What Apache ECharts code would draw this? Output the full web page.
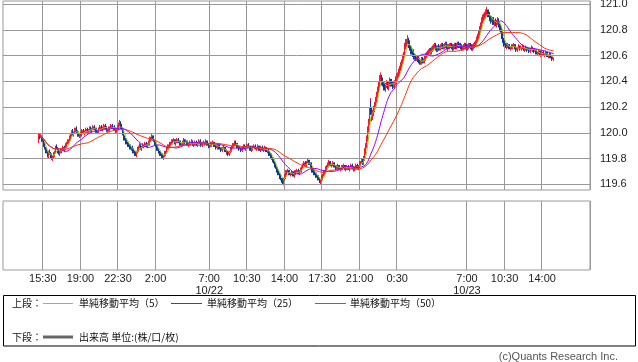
<!DOCTYPE html>
<html><head><meta charset="utf-8">
<script src="https://cdn.jsdelivr.net/npm/echarts@6/dist/echarts.min.js"></script>
<style>html,body{margin:0;padding:0;background:#fff}#c{width:638px;height:362px}</style>
</head><body><div id="c"></div>
<script>
// ---- data: 5-minute bars ----
const firstBar = '10/21 15:10';
const closes = [
119.98,119.97,119.97,119.95,119.94,119.91,119.88,119.86,119.85,119.83,
119.82,119.85,119.84,119.82,119.80,119.81,119.83,119.85,119.87,119.89,
119.88,119.86,119.84,119.85,119.86,119.87,119.88,119.88,119.87,119.88,
119.90,119.92,119.93,119.94,119.96,119.98,120.00,120.01,119.99,120.00,
120.02,120.03,120.01,119.99,119.98,119.98,119.99,120.00,120.01,120.01,
120.00,120.01,120.02,120.02,120.01,120.02,120.03,120.03,120.02,120.03,
120.04,120.04,120.03,120.02,120.01,120.01,120.02,120.03,120.04,120.04,
120.03,120.04,120.05,120.05,120.04,120.03,120.02,120.02,120.03,120.04,
120.05,120.05,120.04,120.04,120.03,120.02,120.02,120.03,120.04,120.06,
120.07,120.05,120.03,120.00,119.97,119.96,119.95,119.93,119.92,119.91,
119.90,119.89,119.88,119.88,119.87,119.86,119.85,119.84,119.83,119.85,
119.87,119.89,119.90,119.89,119.88,119.89,119.90,119.90,119.91,119.91,
119.90,119.91,119.92,119.93,119.95,119.96,119.97,119.96,119.94,119.92,
119.90,119.88,119.87,119.86,119.85,119.84,119.83,119.82,119.81,119.82,
119.84,119.85,119.86,119.88,119.89,119.90,119.91,119.92,119.93,119.94,
119.94,119.93,119.92,119.93,119.94,119.94,119.93,119.92,119.91,119.91,
119.92,119.93,119.94,119.93,119.93,119.92,119.91,119.91,119.92,119.92,
119.93,119.92,119.91,119.91,119.92,119.92,119.91,119.92,119.93,119.93,
119.92,119.91,119.91,119.92,119.92,119.92,119.93,119.92,119.91,119.90,
119.90,119.90,119.91,119.92,119.92,119.91,119.90,119.89,119.89,119.90,
119.90,119.89,119.88,119.87,119.87,119.88,119.88,119.87,119.86,119.85,
119.85,119.84,119.84,119.85,119.87,119.89,119.90,119.91,119.92,119.92,
119.91,119.90,119.89,119.88,119.88,119.87,119.87,119.88,119.89,119.89,
119.88,119.89,119.90,119.90,119.89,119.88,119.87,119.87,119.88,119.89,
119.89,119.89,119.88,119.88,119.89,119.88,119.87,119.87,119.88,119.88,
119.87,119.87,119.88,119.87,119.86,119.86,119.85,119.84,119.83,119.82,
119.80,119.79,119.77,119.75,119.73,119.71,119.70,119.69,119.68,119.66,
119.64,119.63,119.62,119.64,119.66,119.68,119.69,119.70,119.70,119.69,
119.68,119.68,119.69,119.68,119.67,119.68,119.69,119.70,119.70,119.70,
119.69,119.70,119.71,119.73,119.74,119.75,119.76,119.76,119.75,119.77,
119.78,119.77,119.76,119.75,119.73,119.71,119.70,119.69,119.68,119.67,
119.66,119.65,119.64,119.63,119.62,119.63,119.65,119.67,119.69,119.70,
119.72,119.74,119.75,119.76,119.77,119.76,119.75,119.75,119.76,119.75,
119.74,119.73,119.73,119.73,119.74,119.73,119.72,119.72,119.73,119.74,
119.74,119.73,119.72,119.72,119.73,119.73,119.72,119.73,119.74,119.74,
119.73,119.72,119.72,119.73,119.74,119.74,119.73,119.74,119.76,119.77,
119.78,119.78,119.77,119.80,119.85,119.90,119.95,120.02,120.08,120.16,
120.22,120.17,120.12,120.15,120.18,120.21,120.25,120.29,120.33,120.37,
120.40,120.42,120.43,120.40,120.38,120.36,120.35,120.37,120.38,120.37,
120.36,120.38,120.40,120.39,120.38,120.37,120.37,120.39,120.41,120.42,
120.43,120.45,120.47,120.50,120.52,120.55,120.58,120.61,120.64,120.67,
120.70,120.71,120.72,120.69,120.66,120.64,120.63,120.62,120.61,120.60,
120.59,120.58,120.58,120.57,120.56,120.55,120.55,120.56,120.57,120.56,
120.56,120.58,120.60,120.61,120.62,120.63,120.64,120.63,120.63,120.65,
120.66,120.67,120.68,120.66,120.65,120.66,120.67,120.66,120.66,120.67,
120.68,120.67,120.67,120.68,120.69,120.67,120.66,120.67,120.67,120.68,
120.68,120.67,120.66,120.67,120.68,120.68,120.67,120.68,120.69,120.68,
120.68,120.67,120.66,120.66,120.67,120.68,120.68,120.67,120.66,120.67,
120.68,120.68,120.67,120.66,120.66,120.67,120.68,120.69,120.70,120.72,
120.74,120.77,120.80,120.83,120.85,120.87,120.89,120.90,120.91,120.93,
120.94,120.93,120.92,120.90,120.89,120.88,120.88,120.87,120.86,120.86,
120.85,120.86,120.87,120.86,120.84,120.82,120.80,120.76,120.72,120.70,
120.69,120.68,120.67,120.67,120.68,120.67,120.66,120.66,120.67,120.68,
120.68,120.67,120.66,120.65,120.65,120.66,120.67,120.66,120.66,120.66,
120.67,120.66,120.65,120.65,120.66,120.65,120.65,120.64,120.64,120.65,
120.66,120.65,120.65,120.64,120.64,120.63,120.62,120.62,120.63,120.62,
120.61,120.61,120.62,120.62,120.61,120.61,120.62,120.61,120.60,120.60,
120.61,120.60,120.59,120.58,120.58,120.58];
const opens = [
119.93,119.98,119.97,119.97,119.95,119.94,119.91,119.88,119.86,119.85,
119.83,119.82,119.85,119.84,119.82,119.80,119.81,119.83,119.85,119.87,
119.89,119.88,119.86,119.84,119.85,119.86,119.87,119.88,119.88,119.87,
119.88,119.90,119.92,119.93,119.94,119.96,119.98,120.00,120.01,119.99,
120.00,120.02,120.03,120.01,119.99,119.98,119.98,119.99,120.00,120.01,
120.01,120.00,120.01,120.02,120.02,120.01,120.02,120.03,120.03,120.02,
120.03,120.04,120.04,120.03,120.02,120.01,120.01,120.02,120.03,120.04,
120.04,120.03,120.04,120.05,120.05,120.04,120.03,120.02,120.02,120.03,
120.04,120.05,120.05,120.04,120.04,120.03,120.02,120.02,120.03,120.04,
120.06,120.07,120.05,120.03,120.00,119.97,119.96,119.95,119.93,119.92,
119.91,119.90,119.89,119.88,119.88,119.87,119.86,119.85,119.84,119.83,
119.85,119.87,119.89,119.90,119.89,119.88,119.89,119.90,119.90,119.91,
119.91,119.90,119.91,119.92,119.93,119.95,119.96,119.97,119.96,119.94,
119.92,119.90,119.88,119.87,119.86,119.85,119.84,119.83,119.82,119.81,
119.82,119.84,119.85,119.86,119.88,119.89,119.90,119.91,119.92,119.93,
119.94,119.94,119.93,119.92,119.93,119.94,119.94,119.93,119.92,119.91,
119.91,119.92,119.93,119.94,119.93,119.93,119.92,119.91,119.91,119.92,
119.92,119.93,119.92,119.91,119.91,119.92,119.92,119.91,119.92,119.93,
119.93,119.92,119.91,119.91,119.92,119.92,119.92,119.93,119.92,119.91,
119.90,119.90,119.90,119.91,119.92,119.92,119.91,119.90,119.89,119.89,
119.90,119.90,119.89,119.88,119.87,119.87,119.88,119.88,119.87,119.86,
119.85,119.85,119.84,119.84,119.85,119.87,119.89,119.90,119.91,119.92,
119.92,119.91,119.90,119.89,119.88,119.88,119.87,119.87,119.88,119.89,
119.89,119.88,119.89,119.90,119.90,119.89,119.88,119.87,119.87,119.88,
119.89,119.89,119.89,119.88,119.88,119.89,119.88,119.87,119.87,119.88,
119.88,119.87,119.87,119.88,119.87,119.86,119.86,119.85,119.84,119.83,
119.82,119.80,119.79,119.77,119.75,119.73,119.71,119.70,119.69,119.68,
119.66,119.64,119.63,119.62,119.64,119.66,119.68,119.69,119.70,119.70,
119.69,119.68,119.68,119.69,119.68,119.67,119.68,119.69,119.70,119.70,
119.70,119.69,119.70,119.71,119.73,119.74,119.75,119.76,119.76,119.75,
119.77,119.78,119.77,119.76,119.75,119.73,119.71,119.70,119.69,119.68,
119.67,119.66,119.65,119.64,119.63,119.62,119.63,119.65,119.67,119.69,
119.70,119.72,119.74,119.75,119.76,119.77,119.76,119.75,119.75,119.76,
119.75,119.74,119.73,119.73,119.73,119.74,119.73,119.72,119.72,119.73,
119.74,119.74,119.73,119.72,119.72,119.73,119.73,119.72,119.73,119.74,
119.74,119.73,119.72,119.72,119.73,119.74,119.74,119.73,119.74,119.76,
119.77,119.78,119.78,119.77,119.80,119.85,119.90,119.95,120.02,120.08,
120.16,120.22,120.17,120.12,120.15,120.18,120.21,120.25,120.29,120.33,
120.37,120.40,120.42,120.43,120.40,120.38,120.36,120.35,120.37,120.38,
120.37,120.36,120.38,120.40,120.39,120.38,120.37,120.37,120.39,120.41,
120.42,120.43,120.45,120.47,120.50,120.52,120.55,120.58,120.61,120.64,
120.67,120.70,120.71,120.72,120.69,120.66,120.64,120.63,120.62,120.61,
120.60,120.59,120.58,120.58,120.57,120.56,120.55,120.55,120.56,120.57,
120.56,120.56,120.58,120.60,120.61,120.62,120.63,120.64,120.63,120.63,
120.65,120.66,120.67,120.68,120.66,120.65,120.66,120.67,120.66,120.66,
120.67,120.68,120.67,120.67,120.68,120.69,120.67,120.66,120.67,120.67,
120.68,120.68,120.67,120.66,120.67,120.68,120.68,120.67,120.68,120.69,
120.68,120.68,120.67,120.66,120.66,120.67,120.68,120.68,120.67,120.66,
120.67,120.68,120.68,120.67,120.66,120.66,120.67,120.68,120.69,120.70,
120.72,120.74,120.77,120.80,120.83,120.85,120.87,120.89,120.90,120.91,
120.93,120.94,120.93,120.92,120.90,120.89,120.88,120.88,120.87,120.86,
120.86,120.85,120.86,120.87,120.86,120.84,120.82,120.80,120.76,120.72,
120.70,120.69,120.68,120.67,120.67,120.68,120.67,120.66,120.66,120.67,
120.68,120.68,120.67,120.66,120.65,120.65,120.66,120.67,120.66,120.66,
120.66,120.67,120.66,120.65,120.65,120.66,120.65,120.65,120.64,120.64,
120.65,120.66,120.65,120.65,120.64,120.64,120.63,120.62,120.62,120.63,
120.62,120.61,120.61,120.62,120.62,120.61,120.61,120.62,120.61,120.60,
120.60,120.61,120.60,120.59,120.58,120.58];
const highs = [
120.00,119.99,119.99,119.98,119.97,119.95,119.93,119.89,119.88,119.86,
119.85,119.86,119.87,119.85,119.84,119.82,119.85,119.86,119.89,119.90,
119.91,119.89,119.88,119.86,119.88,119.88,119.90,119.89,119.90,119.89,
119.92,119.93,119.95,119.95,119.98,119.99,120.02,120.02,120.03,120.01,
120.04,120.04,120.05,120.02,120.01,119.99,120.01,120.01,120.03,120.02,
120.03,120.02,120.04,120.03,120.04,120.03,120.05,120.04,120.05,120.04,
120.06,120.05,120.06,120.04,120.04,120.02,120.04,120.04,120.06,120.05,
120.06,120.05,120.07,120.06,120.07,120.05,120.05,120.03,120.05,120.05,
120.07,120.06,120.07,120.05,120.06,120.04,120.04,120.04,120.06,120.08,
120.10,120.09,120.07,120.04,120.02,119.98,119.98,119.96,119.95,119.93,
119.93,119.91,119.91,119.89,119.90,119.88,119.88,119.86,119.86,119.86,
119.89,119.90,119.92,119.91,119.91,119.90,119.92,119.91,119.93,119.92,
119.93,119.92,119.94,119.94,119.97,119.97,119.99,119.98,119.98,119.95,
119.94,119.91,119.90,119.88,119.88,119.86,119.86,119.84,119.84,119.83,
119.86,119.86,119.88,119.89,119.91,119.91,119.93,119.93,119.95,119.95,
119.96,119.95,119.95,119.94,119.96,119.95,119.96,119.94,119.94,119.92,
119.94,119.94,119.96,119.95,119.95,119.94,119.94,119.92,119.94,119.93,
119.95,119.94,119.94,119.92,119.94,119.93,119.94,119.93,119.95,119.94,
119.95,119.93,119.93,119.93,119.94,119.93,119.95,119.94,119.94,119.92,
119.92,119.91,119.93,119.93,119.94,119.93,119.93,119.91,119.91,119.91,
119.92,119.91,119.91,119.89,119.89,119.89,119.90,119.89,119.89,119.87,
119.87,119.86,119.86,119.86,119.89,119.90,119.92,119.92,119.94,119.93,
119.94,119.92,119.92,119.90,119.90,119.89,119.89,119.89,119.91,119.90,
119.91,119.90,119.92,119.91,119.92,119.90,119.90,119.88,119.90,119.90,
119.91,119.90,119.91,119.89,119.91,119.90,119.90,119.88,119.90,119.89,
119.90,119.88,119.90,119.89,119.89,119.87,119.88,119.86,119.86,119.84,
119.84,119.81,119.81,119.78,119.77,119.74,119.73,119.71,119.71,119.69,
119.68,119.65,119.65,119.65,119.68,119.69,119.71,119.71,119.72,119.71,
119.71,119.69,119.71,119.70,119.70,119.69,119.71,119.71,119.72,119.71,
119.72,119.71,119.73,119.74,119.76,119.76,119.78,119.77,119.78,119.78,
119.80,119.79,119.79,119.77,119.77,119.74,119.73,119.71,119.71,119.69,
119.69,119.67,119.67,119.65,119.65,119.64,119.67,119.68,119.71,119.71,
119.74,119.75,119.77,119.77,119.79,119.78,119.78,119.76,119.78,119.77,
119.77,119.75,119.75,119.74,119.76,119.75,119.75,119.73,119.75,119.75,
119.76,119.75,119.75,119.73,119.75,119.74,119.75,119.74,119.76,119.75,
119.76,119.74,119.74,119.74,119.76,119.75,119.76,119.75,119.78,119.78,
119.80,119.80,119.80,119.82,119.88,119.92,119.98,120.05,120.11,120.20,
120.27,120.25,120.20,120.18,120.21,120.24,120.28,120.32,120.36,120.40,
120.43,120.45,120.47,120.45,120.43,120.40,120.39,120.39,120.41,120.40,
120.40,120.40,120.43,120.42,120.42,120.40,120.40,120.41,120.44,120.44,
120.46,120.47,120.50,120.52,120.55,120.57,120.61,120.63,120.67,120.70,
120.73,120.73,120.76,120.74,120.72,120.68,120.67,120.65,120.65,120.63,
120.62,120.61,120.60,120.60,120.59,120.58,120.57,120.58,120.59,120.59,
120.58,120.60,120.62,120.63,120.64,120.65,120.66,120.66,120.65,120.67,
120.68,120.69,120.70,120.70,120.68,120.68,120.69,120.69,120.68,120.69,
120.70,120.70,120.69,120.70,120.71,120.71,120.69,120.69,120.69,120.70,
120.70,120.70,120.69,120.69,120.70,120.70,120.70,120.70,120.71,120.71,
120.70,120.70,120.69,120.68,120.69,120.70,120.70,120.70,120.69,120.69,
120.70,120.70,120.70,120.69,120.68,120.69,120.70,120.71,120.72,120.75,
120.77,120.80,120.83,120.86,120.88,120.90,120.92,120.93,120.94,120.96,
120.98,120.96,120.96,120.94,120.93,120.91,120.91,120.90,120.90,120.88,
120.89,120.88,120.90,120.89,120.89,120.86,120.85,120.82,120.79,120.74,
120.72,120.70,120.70,120.68,120.70,120.69,120.69,120.67,120.69,120.69,
120.70,120.69,120.69,120.67,120.67,120.67,120.69,120.68,120.68,120.67,
120.69,120.68,120.68,120.66,120.68,120.67,120.67,120.66,120.66,120.66,
120.68,120.67,120.67,120.66,120.66,120.65,120.65,120.63,120.65,120.64,
120.64,120.62,120.64,120.63,120.64,120.62,120.64,120.63,120.63,120.61,
120.63,120.62,120.62,120.60,120.60,120.59];
const lows = [
119.92,119.95,119.96,119.93,119.93,119.89,119.87,119.84,119.84,119.81,
119.81,119.80,119.83,119.80,119.79,119.78,119.80,119.81,119.84,119.85,
119.87,119.84,119.83,119.82,119.84,119.84,119.86,119.86,119.86,119.85,
119.87,119.88,119.91,119.91,119.93,119.94,119.97,119.98,119.98,119.97,
119.99,120.00,120.00,119.97,119.97,119.96,119.97,119.97,119.99,119.99,
119.99,119.98,120.00,120.00,120.00,119.99,120.01,120.01,120.01,120.00,
120.02,120.02,120.02,120.00,120.00,119.99,120.00,120.00,120.02,120.02,
120.02,120.01,120.03,120.03,120.03,120.01,120.01,120.00,120.01,120.01,
120.03,120.03,120.03,120.02,120.02,120.00,120.01,120.00,120.02,120.02,
120.05,120.03,120.02,119.98,119.96,119.94,119.94,119.91,119.91,119.89,
119.89,119.87,119.87,119.86,119.86,119.84,119.84,119.82,119.82,119.81,
119.84,119.85,119.88,119.87,119.87,119.86,119.88,119.88,119.89,119.89,
119.89,119.88,119.90,119.90,119.92,119.93,119.95,119.94,119.93,119.90,
119.89,119.86,119.86,119.84,119.84,119.82,119.82,119.80,119.80,119.79,
119.81,119.82,119.84,119.84,119.87,119.87,119.89,119.89,119.91,119.91,
119.93,119.91,119.91,119.90,119.92,119.92,119.92,119.90,119.90,119.89,
119.90,119.90,119.92,119.91,119.92,119.90,119.90,119.89,119.90,119.90,
119.91,119.90,119.90,119.89,119.90,119.90,119.90,119.89,119.91,119.91,
119.91,119.89,119.90,119.89,119.91,119.90,119.91,119.90,119.90,119.88,
119.89,119.88,119.89,119.89,119.91,119.89,119.89,119.87,119.88,119.87,
119.89,119.87,119.87,119.85,119.86,119.85,119.87,119.85,119.85,119.83,
119.84,119.82,119.83,119.82,119.84,119.85,119.88,119.88,119.90,119.90,
119.90,119.88,119.88,119.86,119.87,119.85,119.86,119.85,119.87,119.87,
119.87,119.86,119.88,119.88,119.88,119.86,119.86,119.85,119.86,119.86,
119.88,119.87,119.87,119.86,119.87,119.86,119.86,119.85,119.86,119.86,
119.86,119.85,119.86,119.85,119.85,119.84,119.84,119.82,119.82,119.80,
119.79,119.77,119.76,119.73,119.72,119.69,119.69,119.67,119.67,119.64,
119.63,119.61,119.60,119.59,119.63,119.64,119.67,119.67,119.69,119.67,
119.67,119.66,119.67,119.66,119.66,119.65,119.67,119.67,119.69,119.68,
119.68,119.67,119.69,119.69,119.72,119.72,119.74,119.74,119.74,119.73,
119.76,119.75,119.75,119.73,119.72,119.69,119.69,119.67,119.67,119.65,
119.65,119.63,119.63,119.61,119.61,119.60,119.62,119.63,119.66,119.67,
119.69,119.70,119.73,119.73,119.75,119.74,119.74,119.73,119.74,119.73,
119.73,119.71,119.72,119.71,119.72,119.71,119.71,119.70,119.71,119.71,
119.73,119.71,119.71,119.70,119.71,119.71,119.71,119.70,119.72,119.72,
119.72,119.70,119.71,119.70,119.72,119.72,119.72,119.71,119.73,119.74,
119.76,119.76,119.75,119.75,119.78,119.83,119.88,119.93,120.00,120.06,
120.14,120.14,120.09,120.10,120.13,120.16,120.19,120.23,120.27,120.31,
120.35,120.38,120.40,120.37,120.36,120.33,120.33,120.32,120.35,120.34,
120.34,120.33,120.36,120.36,120.36,120.34,120.35,120.34,120.37,120.38,
120.40,120.40,120.43,120.44,120.48,120.49,120.53,120.55,120.59,120.61,
120.65,120.67,120.69,120.66,120.64,120.61,120.61,120.59,120.59,120.57,
120.57,120.56,120.56,120.55,120.54,120.53,120.53,120.53,120.54,120.54,
120.54,120.54,120.56,120.58,120.59,120.60,120.61,120.61,120.61,120.61,
120.63,120.64,120.65,120.64,120.63,120.63,120.64,120.64,120.64,120.64,
120.65,120.65,120.65,120.65,120.66,120.65,120.64,120.64,120.65,120.65,
120.66,120.65,120.64,120.64,120.65,120.66,120.65,120.65,120.66,120.66,
120.66,120.65,120.64,120.64,120.64,120.65,120.66,120.65,120.64,120.64,
120.65,120.66,120.65,120.64,120.64,120.64,120.65,120.66,120.67,120.68,
120.70,120.72,120.75,120.78,120.81,120.83,120.85,120.87,120.88,120.89,
120.91,120.90,120.90,120.87,120.87,120.85,120.86,120.84,120.84,120.83,
120.83,120.82,120.84,120.83,120.82,120.79,120.78,120.73,120.70,120.67,
120.68,120.66,120.66,120.65,120.66,120.65,120.65,120.64,120.65,120.65,
120.67,120.65,120.65,120.63,120.64,120.63,120.65,120.64,120.65,120.64,
120.65,120.64,120.64,120.63,120.64,120.63,120.64,120.62,120.63,120.62,
120.64,120.63,120.64,120.62,120.63,120.61,120.61,120.60,120.61,120.60,
120.60,120.59,120.60,120.60,120.60,120.59,120.60,120.59,120.59,120.58,
120.59,120.58,120.58,120.56,120.57,120.56];

const tickTimes = ['10/21 15:30','10/21 19:00','10/21 22:30','10/22 02:00','10/22 07:00','10/22 10:30','10/22 14:00','10/22 17:30','10/22 21:00','10/23 00:30','10/23 07:00','10/23 10:30','10/23 14:00'];
const tickLabels = ['15:30','19:00','22:30','2:00','7:00\n10/22','10:30','14:00','17:30','21:00','0:30','7:00\n10/23','10:30','14:00'];
const priceTicks = [119.6,119.8,120.0,120.2,120.4,120.6,120.8,121.0];
const maPeriods = [5,25,50];
const maNames = ['単純移動平均（5）','単純移動平均（25）','単純移動平均（50）'];
const maColors = ['#99cc00','#9900ff','#ff3300'];
const upColor = '#f5143c', downColor = '#0c3b9c';

// ---- axis slots: 5-minute categories ----
const categories = [];
{
  const t0 = Date.UTC(2015, 9, 21, 11, 50);
  const pad = n => (n < 10 ? '0' : '') + n;
  for (let k = 0; k < 656; k++) {
    const d = new Date(t0 + k * 300000);
    categories.push(pad(d.getUTCMonth() + 1) + '/' + pad(d.getUTCDate()) + ' ' + pad(d.getUTCHours()) + ':' + pad(d.getUTCMinutes()));
  }
}
const start = categories.indexOf(firstBar);
const candleData = categories.map((c, k) => {
  const j = k - start;
  if (j < 0 || j >= closes.length) return '-';
  return [opens[j], closes[j], lows[j], highs[j]];
});
function sma(p) {
  return categories.map((c, k) => {
    const j = k - start;
    if (j < 0 || j >= closes.length) return '-';
    const s = Math.max(0, j - p + 1);
    let sum = 0;
    for (let m = s; m <= j; m++) sum += closes[m];
    return +(sum / (j - s + 1)).toFixed(4);
  });
}
const tickSet = new Set(tickTimes);
const isTick = (i, v) => tickSet.has(v);
const LATIN = 'Liberation Sans, Arial, sans-serif';
const CJK = 'Noto Sans CJK JP, sans-serif';

const chart = echarts.init(document.getElementById('c'), null, {renderer: 'canvas'});
const series = [
  {
    type: 'line', xAxisIndex: 0, yAxisIndex: 0, data: [], z: 1, silent: true,
    markLine: {
      silent: true, symbol: ['none', 'none'], animation: false,
      lineStyle: {color: '#999', width: 1, type: 'solid'},
      label: {position: 'end', distance: 10, color: '#222', fontSize: 11, fontFamily: LATIN,
        formatter: p => Number(p.value).toFixed(1)},
      emphasis: {disabled: true},
      data: priceTicks.map(v => ({yAxis: v}))
    }
  },
  {
    type: 'candlestick', name: 'price', xAxisIndex: 0, yAxisIndex: 0, z: 3,
    data: candleData, barWidth: 1, large: false,
    itemStyle: {color: upColor, color0: downColor, borderColor: upColor, borderColor0: downColor, borderWidth: 1},
    animation: false
  }
];
maPeriods.forEach((p, n) => {
  series.push({
    type: 'line', name: maNames[n], xAxisIndex: 0, yAxisIndex: 0, z: 5,
    data: sma(p), symbol: 'none', showSymbol: false,
    lineStyle: {color: maColors[n], width: 1}, itemStyle: {color: maColors[n]},
    animation: false
  });
});
series.push({type: 'bar', name: '出来高', xAxisIndex: 1, yAxisIndex: 1, data: [], animation: false});

const xCommon = {
  type: 'category', data: categories, boundaryGap: true,
  axisLine: {show: false}, axisTick: {show: false},
  splitLine: {show: true, interval: isTick, lineStyle: {color: '#999', width: 1}}
};
chart.setOption({
  animation: false,
  backgroundColor: '#fff',
  grid: [
    {left: 3, top: 1, width: 587, height: 189, show: true, borderColor: '#999', borderWidth: 1, containLabel: false},
    {left: 3, top: 201, width: 587, height: 69, show: true, borderColor: '#999', borderWidth: 1, containLabel: false}
  ],
  xAxis: [
    Object.assign({gridIndex: 0, axisLabel: {show: false}}, xCommon),
    Object.assign({gridIndex: 1, axisLabel: {show: true, interval: isTick, margin: 3, color: '#222',
      fontSize: 11, lineHeight: 12, fontFamily: LATIN,
      formatter: v => tickLabels[tickTimes.indexOf(v)] || ''}}, xCommon)
  ],
  yAxis: [
    {type: 'value', gridIndex: 0, position: 'right', min: 119.555, max: 121.026,
      axisLine: {show: false}, axisTick: {show: false}, axisLabel: {show: false}, splitLine: {show: false}},
    {type: 'value', gridIndex: 1, min: 0, max: 1,
      axisLine: {show: false}, axisTick: {show: false}, axisLabel: {show: false}, splitLine: {show: false}}
  ],
  series: series,
  graphic: [
    {type: 'rect', shape: {x: 3.5, y: 295.5, width: 632, height: 50.5}, style: {fill: '#fff', stroke: '#000', lineWidth: 1}, z: 10},
    {type: 'text', x: 12, y: 303, style: {text: '上段：', font: '10px ' + CJK, fill: '#111', verticalAlign: 'middle'}, z: 11},
    {type: 'line', shape: {x1: 43, y1: 303.5, x2: 73, y2: 303.5}, style: {stroke: maColors[0], lineWidth: 1}, z: 11},
    {type: 'text', x: 79, y: 303, style: {text: maNames[0], font: '10px ' + CJK, fill: '#111', verticalAlign: 'middle'}, z: 11},
    {type: 'line', shape: {x1: 171, y1: 303.5, x2: 202, y2: 303.5}, style: {stroke: maColors[1], lineWidth: 1}, z: 11},
    {type: 'text', x: 207, y: 303, style: {text: maNames[1], font: '10px ' + CJK, fill: '#111', verticalAlign: 'middle'}, z: 11},
    {type: 'line', shape: {x1: 315, y1: 303.5, x2: 346, y2: 303.5}, style: {stroke: maColors[2], lineWidth: 1}, z: 11},
    {type: 'text', x: 350, y: 303, style: {text: maNames[2], font: '10px ' + CJK, fill: '#111', verticalAlign: 'middle'}, z: 11},
    {type: 'text', x: 12, y: 337, style: {text: '下段：', font: '10px ' + CJK, fill: '#111', verticalAlign: 'middle'}, z: 11},
    {type: 'line', shape: {x1: 43, y1: 337, x2: 73, y2: 337}, style: {stroke: '#666', lineWidth: 3}, z: 11},
    {type: 'text', x: 79, y: 337, style: {text: '出来高 単位:(株/口/枚)', font: '10px ' + CJK, fill: '#111', verticalAlign: 'middle'}, z: 11},
    {type: 'text', x: 618, y: 356.5, style: {text: '(c)Quants Research Inc.', font: '11px ' + LATIN, fill: '#555', align: 'right', verticalAlign: 'middle'}, z: 11}
  ]
});
</script></body></html>
